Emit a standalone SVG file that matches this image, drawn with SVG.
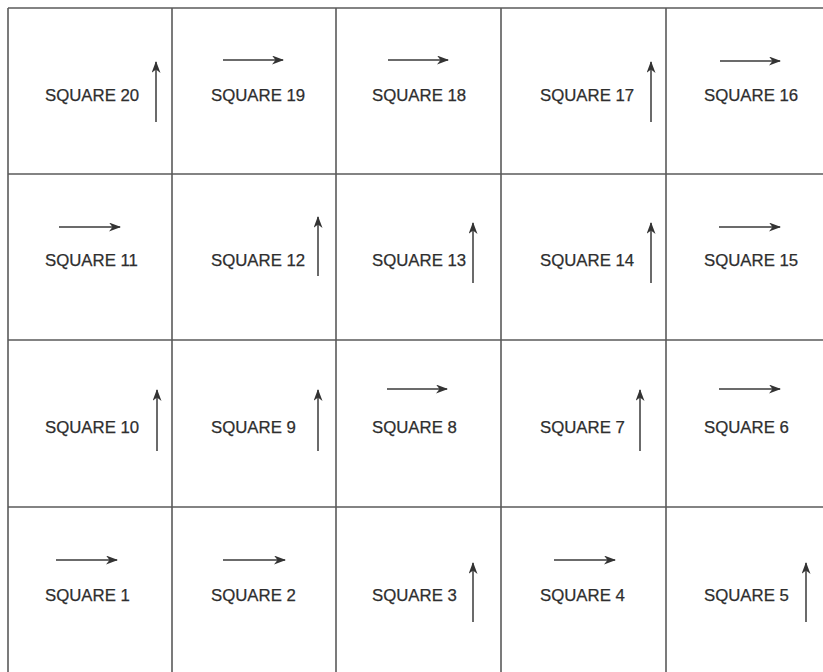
<svg xmlns="http://www.w3.org/2000/svg" width="823" height="672" viewBox="0 0 823 672">
<style>
.grid{stroke:#5a5a5a;stroke-width:1.6;fill:none}
.lbl{font-family:"Liberation Sans",Arial,sans-serif;font-size:16.8px;fill:#2e2e2e;stroke:#2e2e2e;stroke-width:0.25}
.arr{stroke:#3a3a3a;stroke-width:1.5;fill:none;marker-end:url(#ah)}
</style>
<defs>
<marker id="ah" markerUnits="userSpaceOnUse" markerWidth="14" markerHeight="10" refX="11" refY="4.5" orient="auto">
<path d="M0,0 L12,4.5 L0,9 L3.5,4.5 z" fill="#333"/>
</marker>
</defs>
<rect width="823" height="672" fill="#fff"/>
<g id="grid" class="grid">
<line x1="8" y1="8" x2="823" y2="8"/>
<line x1="8" y1="174" x2="823" y2="174"/>
<line x1="8" y1="340" x2="823" y2="340"/>
<line x1="8" y1="507" x2="823" y2="507"/>
<line x1="8" y1="8" x2="8" y2="672"/>
<line x1="172" y1="8" x2="172" y2="672"/>
<line x1="336" y1="8" x2="336" y2="672"/>
<line x1="501" y1="8" x2="501" y2="672"/>
<line x1="666" y1="8" x2="666" y2="672"/>
</g>
<g id="sq20"><text class="lbl" x="45" y="101">SQUARE 20</text></g>
<g id="sq19"><text class="lbl" x="211" y="101">SQUARE 19</text></g>
<g id="sq18"><text class="lbl" x="372" y="101">SQUARE 18</text></g>
<g id="sq17"><text class="lbl" x="540" y="101">SQUARE 17</text></g>
<g id="sq16"><text class="lbl" x="704" y="101">SQUARE 16</text></g>
<g id="sq11"><text class="lbl" x="45" y="266">SQUARE 11</text></g>
<g id="sq12"><text class="lbl" x="211" y="266">SQUARE 12</text></g>
<g id="sq13"><text class="lbl" x="372" y="266">SQUARE 13</text></g>
<g id="sq14"><text class="lbl" x="540" y="266">SQUARE 14</text></g>
<g id="sq15"><text class="lbl" x="704" y="266">SQUARE 15</text></g>
<g id="sq10"><text class="lbl" x="45" y="433">SQUARE 10</text></g>
<g id="sq9"><text class="lbl" x="211" y="433">SQUARE 9</text></g>
<g id="sq8"><text class="lbl" x="372" y="433">SQUARE 8</text></g>
<g id="sq7"><text class="lbl" x="540" y="433">SQUARE 7</text></g>
<g id="sq6"><text class="lbl" x="704" y="433">SQUARE 6</text></g>
<g id="sq1"><text class="lbl" x="45" y="601">SQUARE 1</text></g>
<g id="sq2"><text class="lbl" x="211" y="601">SQUARE 2</text></g>
<g id="sq3"><text class="lbl" x="372" y="601">SQUARE 3</text></g>
<g id="sq4"><text class="lbl" x="540" y="601">SQUARE 4</text></g>
<g id="sq5"><text class="lbl" x="704" y="601">SQUARE 5</text></g>
<g id="arrows" class="arr">
<line x1="156" y1="122" x2="156" y2="62"/>
<line x1="223" y1="60" x2="283" y2="60"/>
<line x1="388" y1="60" x2="448" y2="60"/>
<line x1="651" y1="122" x2="651" y2="62"/>
<line x1="720" y1="61" x2="780" y2="61"/>
<line x1="59" y1="227" x2="120" y2="227"/>
<line x1="318" y1="276" x2="318" y2="217"/>
<line x1="473" y1="283" x2="473" y2="223"/>
<line x1="651" y1="283" x2="651" y2="223"/>
<line x1="719" y1="227" x2="780" y2="227"/>
<line x1="157" y1="451" x2="157" y2="390"/>
<line x1="318" y1="451" x2="318" y2="390"/>
<line x1="387" y1="389" x2="447" y2="389"/>
<line x1="640" y1="451" x2="640" y2="390"/>
<line x1="719" y1="389" x2="780" y2="389"/>
<line x1="56" y1="560" x2="117" y2="560"/>
<line x1="223" y1="560" x2="285" y2="560"/>
<line x1="473" y1="622" x2="473" y2="563"/>
<line x1="554" y1="560" x2="615" y2="560"/>
<line x1="806" y1="622" x2="806" y2="563"/>
</g>
</svg>
